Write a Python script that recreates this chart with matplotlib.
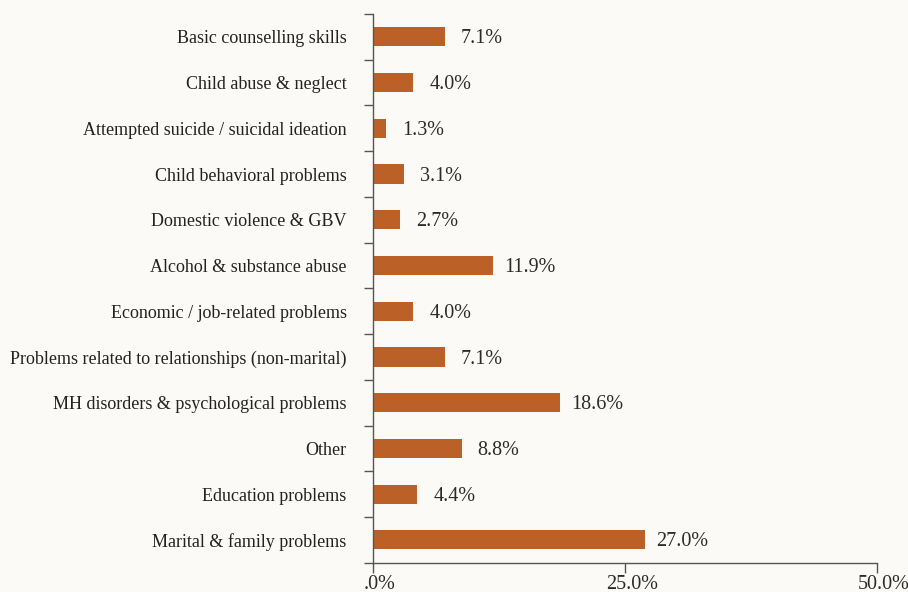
import matplotlib.pyplot as plt
import matplotlib.transforms as mtransforms
import numpy as np

categories = [
    "Basic counselling skills",
    "Child abuse & neglect",
    "Attempted suicide / suicidal ideation",
    "Child behavioral problems",
    "Domestic violence & GBV",
    "Alcohol & substance abuse",
    "Economic / job-related problems",
    "Problems related to relationships (non-marital)",
    "MH disorders & psychological problems",
    "Other",
    "Education problems",
    "Marital & family problems",
]
values = [7.1, 4.0, 1.3, 3.1, 2.7, 11.9, 4.0, 7.1, 18.6, 8.8, 4.4, 27.0]
xticks = [0, 25, 50]
xticklabels = [".0%", "25.0%", "50.0%"]

BG = "#fbfaf6"
BAR = "#bb6127"
INK = "#2b2b2b"
AXIS = "#555555"

plt.rcParams['font.family'] = ['Liberation Serif', 'DejaVu Serif']

fig = plt.figure(figsize=(9.08, 5.92), dpi=100, facecolor=BG)
ax = fig.add_axes([373 / 908, 1 - 562.7 / 592, 504 / 908, 548.7 / 592])
ax.set_facecolor(BG)

n = len(categories)
ypos = np.arange(n)[::-1]
ax.barh(ypos, values, height=0.42, color=BAR, zorder=2)

# value labels centred a fixed distance past the end of each bar
for y, v in zip(ypos, values):
    ax.annotate("%.1f%%" % v, xy=(v, y), xytext=(26.6, -1.5), textcoords='offset points',
                ha='center', va='center', fontsize=14.5, color=INK)

ax.set_xlim(0, 50)
ax.set_ylim(-0.5, n - 0.5)

ax.set_xticks(xticks)
ax.set_xticklabels(xticklabels, fontsize=14.5, color=INK)
ax.tick_params(axis='x', length=7.2, width=1, color=AXIS, pad=1.5)
# percent labels sit a little right of their ticks
shift = mtransforms.ScaledTranslation(7 / 100, 0, fig.dpi_scale_trans)
for lab in ax.get_xticklabels():
    lab.set_transform(lab.get_transform() + shift)

# category ticks sit between the bars, labels centred on the bars
ax.set_yticks(np.arange(n + 1) - 0.5)
ax.set_yticklabels([])
ax.set_yticks(ypos, minor=True)
ax.set_yticklabels(categories, minor=True, fontsize=13, color='#222222')
ax.tick_params(axis='y', which='major', length=6.5, width=1, color=AXIS)
ax.tick_params(axis='y', which='minor', length=0, pad=19)

for s in ['top', 'right']:
    ax.spines[s].set_visible(False)
for s in ['left', 'bottom']:
    ax.spines[s].set_color(AXIS)
    ax.spines[s].set_linewidth(1)

fig.savefig("out.png", dpi=100, facecolor=BG)
